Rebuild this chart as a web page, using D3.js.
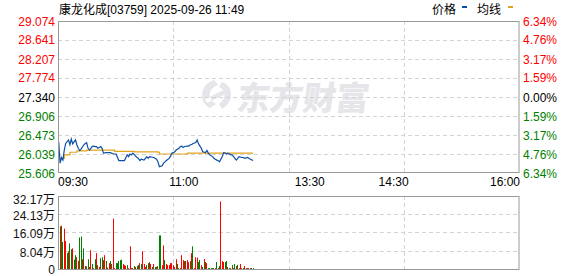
<!DOCTYPE html>
<html><head><meta charset="utf-8">
<script src="https://cdn.jsdelivr.net/npm/d3@7"></script>
<style>
body{margin:0;background:#fff}
svg{display:block}
text{font-family:"Liberation Sans",Arial,"Noto Sans CJK SC",sans-serif;font-size:12px}
</style>
</head><body><svg id="c" width="578" height="276"></svg>
<script>
// ---------- data ----------
const title = "康龙化成[03759] 2025-09-26 11:49";
const legendNames = ["价格", "均线"];
const prevClose = 27.340;
const priceTicks = [29.074, 28.641, 28.207, 27.774, 27.340, 26.906, 26.473, 26.039, 25.606];
const pctTicks = ["6.34%", "4.76%", "3.17%", "1.59%", "0.00%", "1.59%", "3.17%", "4.76%", "6.34%"];
const volTicks = [32.17, 24.13, 16.09, 8.04, 0];
const volTickLabels = ["32.17万", "24.13万", "16.09万", "8.04万", "0"];
const timeLabels = ["09:30", "11:00", "13:30", "14:30", "16:00"];
const timeMinutes = [0, 90, 180, 240, 330];
const totalMinutes = 330;

// price line (minute index from 09:30, price)
const priceMinutes = [0,1,2,3,4,5,7,8,9,10,12,13,14,15,16,18,19,20,21,22,24,25,26,27,28,30,31,32,34,37,39,41,43,45,47,49,50,51,52,53,55,56,57,58,59,61,62,63,64,65,68,70,71,72,74,75,76,77,79,80,81,82,83,84,86,87,88,89,90,92,93,94,95,96,98,99,100,101,102,103,105,106,107,108,110,111,112,113,114,115,117,118,119,120,121,123,124,125,126,127,128,129,131,132,133,135,136,137,139];
const prices = [26.32,25.83,25.96,25.90,26.13,26.28,26.36,26.25,26.38,26.27,26.36,26.25,26.17,26.12,26.15,26.25,26.28,26.30,26.17,26.13,26.21,26.22,26.21,26.21,26.17,26.21,26.17,26.06,26.07,26.07,26.04,26.04,25.89,25.89,25.89,26.02,25.98,26.04,26.02,26.06,25.99,25.96,25.94,25.89,25.92,25.90,25.94,25.98,25.94,25.98,25.96,25.92,25.86,25.75,25.77,25.83,25.86,25.89,25.94,25.99,26.06,26.07,26.09,26.13,26.17,26.21,26.22,26.19,26.21,26.22,26.22,26.25,26.25,26.28,26.30,26.36,26.27,26.22,26.17,26.09,26.07,26.12,26.06,26.02,25.98,25.94,25.92,25.90,25.89,25.86,25.98,26.07,26.06,26.04,26.06,26.02,26.02,25.98,25.94,25.90,25.94,25.98,25.96,25.96,25.94,25.96,25.94,25.92,25.89];

// average line
const avgMinutes = [1,4,8,13,20,39,40,54,71,72,91,92,139];
const avgPrices = [25.94,26.02,26.08,26.11,26.13,26.13,26.10,26.09,26.08,26.04,26.04,26.06,26.06];

// volume per minute (万股) and direction (1 = up/red, 0 = down/green)
const volumes = [28.7,18.8,19.1,11.9,17.8,12.3,7.0,7.8,11.3,8.7,9.1,4.1,6.1,5.2,3.6,13.9,14.3,4.3,9.1,1.3,1.2,4.3,0.9,8.3,2.2,0.4,4.3,7.0,1.7,0.9,4.8,5.2,3.9,6.1,3.5,0.6,2.6,3.5,2.2,22.2,0.4,2.6,2.6,3.5,3.9,4.1,2.2,1.7,1.4,1.7,0.4,10.0,0.4,0.4,1.3,0.9,1.4,1.7,2.6,2.2,7.8,2.2,0.9,1.7,2.6,3.0,2.2,0.9,2.2,0.9,0.9,1.3,14.8,14.8,1.7,10.4,3.9,2.2,1.7,1.7,2.6,2.6,1.7,0.9,4.3,2.2,0.4,0.4,6.1,3.9,3.5,3.5,3.9,3.0,3.5,7.0,10.0,0.4,5.2,5.0,3.1,4.0,1.7,0.9,4.4,3.1,2.6,0.4,0.4,0.4,0.4,0.4,0.4,3.1,0.4,1.3,29.8,3.5,3.1,3.1,3.5,0.9,0.4,0.4,1.8,0.4,2.2,1.3,1.8,0.4,2.2,0.4,0.4,1.3,0.4,0.4,0.4,0.4,0.4,0.4];
const volUp =   [0,0,1,0,1,1,0,1,0,0,1,0,0,1,1,0,0,1,0,1,0,0,1,1,0,1,0,1,0,1,0,0,1,1,0,1,1,0,1,1,1,0,0,0,0,0,1,1,1,0,1,1,1,0,0,1,0,0,1,0,1,1,1,0,1,0,1,0,1,0,1,0,0,0,1,1,0,1,1,1,1,1,1,1,1,0,0,1,1,1,1,0,1,1,0,1,0,1,1,1,0,0,1,0,1,0,1,0,0,0,0,0,1,0,1,0,1,1,1,0,0,1,0,1,0,1,0,1,0,0,1,1,0,1,0,1,1,1,0,0];

// ---------- layout ----------
const L = 58, R = 519.5;
const pTop = 21, pBot = 173;
const vTop = 196, vBot = 269;
const RED = "#ff0000", GREEN = "#008000", BLUE = "#0b4fa6", ORANGE = "#e2a31c";
const GRID = "#d3d3d3", BORDER = "#999";

const svg = d3.select("#c");
const x = d3.scaleLinear().domain([0, totalMinutes]).range([L, R]);
const y = d3.scaleLinear().domain([priceTicks[priceTicks.length - 1], priceTicks[0]]).range([pBot, pTop]);
const vy = d3.scaleLinear().domain([0, volTicks[0]]).range([vBot, vTop]);

// watermark
const wm = svg.append("g").attr("fill", "#e5e5ea");
wm.append("text").attr("x", 237).attr("y", 110)
  .attr("transform", "skewX(-8) translate(14,0)")
  .style("font-family", "'Noto Sans CJK SC'").style("font-size", "33px").style("font-weight", "900")
  .text("东方财富");
wm.append("path")
  .attr("d", "M214,80 C200,84 198,102 210,108 L216,104 C207,99 208,88 218,85 Z M222,82 C234,86 234,102 222,109 L219,104 C227,98 226,90 219,87 Z M205,99 L228,88 L230,92 L207,103 Z");

// grid — price
const gp = svg.append("g");
const vGrid = [1, 2, 3].map(i => L + (R - L) * i / 4);
gp.selectAll("line.h").data(priceTicks.slice(1, -1)).join("line")
  .attr("x1", L).attr("x2", R).attr("y1", d => Math.round(y(d)) + 0.5).attr("y2", d => Math.round(y(d)) + 0.5)
  .attr("stroke", GRID).attr("stroke-dasharray", "4,3");
gp.selectAll("line.v").data(vGrid).join("line").attr("class", "v")
  .attr("x1", d => Math.round(d) + 0.5).attr("x2", d => Math.round(d) + 0.5).attr("y1", pTop).attr("y2", pBot)
  .attr("stroke", GRID).attr("stroke-dasharray", "4,3");
// grid — volume
const gv = svg.append("g");
gv.selectAll("line.h").data(volTicks.slice(1, -1)).join("line")
  .attr("x1", L).attr("x2", R).attr("y1", d => Math.round(vy(d)) + 0.5).attr("y2", d => Math.round(vy(d)) + 0.5)
  .attr("stroke", GRID).attr("stroke-dasharray", "4,3");
gv.selectAll("line.v").data(vGrid).join("line").attr("class", "v")
  .attr("x1", d => Math.round(d) + 0.5).attr("x2", d => Math.round(d) + 0.5).attr("y1", vTop).attr("y2", vBot)
  .attr("stroke", GRID).attr("stroke-dasharray", "4,3");

// volume bars
svg.append("g").selectAll("rect").data(volumes.map((v, i) => ({v, i, up: volUp[i]}))).join("rect")
  .attr("x", d => Math.floor(x(d.i + 0.5)))
  .attr("width", 1)
  .attr("y", d => vy(d.v))
  .attr("height", d => vBot - vy(d.v))
  .attr("fill", d => d.up ? RED : GREEN);

// average line
svg.append("path")
  .datum(avgMinutes.map((m, i) => [m, avgPrices[i]]))
  .attr("d", d3.line().x(d => x(d[0] + 0.5)).y(d => y(d[1])).curve(d3.curveStepAfter))
  .attr("fill", "none").attr("stroke", ORANGE).attr("stroke-width", 1.2);

// price line
svg.append("path")
  .datum(priceMinutes.map((m, i) => [m, prices[i]]))
  .attr("d", d3.line().x(d => x(d[0] + 0.5)).y(d => y(d[1])))
  .attr("fill", "none").attr("stroke", BLUE).attr("stroke-width", 1.2);

// borders
svg.append("rect").attr("x", L + 0.5).attr("y", pTop + 0.5).attr("width", R - L - 1).attr("height", pBot - pTop - 1)
  .attr("fill", "none").attr("stroke", BORDER);
svg.append("rect").attr("x", L + 0.5).attr("y", vTop + 0.5).attr("width", R - L - 1).attr("height", vBot - vTop)
  .attr("fill", "none").attr("stroke", BORDER);

// left price labels
const lblColor = i => i < 4 ? RED : (i === 4 ? "#000" : GREEN);
svg.append("g").selectAll("text").data(priceTicks).join("text")
  .attr("x", 55).attr("y", d => y(d) + 4.5).attr("text-anchor", "end")
  .attr("fill", (d, i) => lblColor(i)).text(d => d.toFixed(3));
// right percent labels
svg.append("g").selectAll("text").data(pctTicks).join("text")
  .attr("x", 523).attr("y", (d, i) => y(priceTicks[i]) + 4.5)
  .attr("fill", (d, i) => lblColor(i)).text(d => d);
// volume labels
svg.append("g").selectAll("text").data(volTicks).join("text")
  .attr("x", 55)
  .attr("y", (d, i) => i === 0 ? vy(d) + 7.5 : (i === volTicks.length - 1 ? vy(d) + 4.5 : vy(d) + 5.8))
  .attr("text-anchor", "end")
  .attr("fill", "#111").text((d, i) => volTickLabels[i]);
// time labels
svg.append("g").selectAll("text").data(timeLabels).join("text")
  .attr("x", (d, i) => i === 0 ? L : (i === timeLabels.length - 1 ? R + 0.5 : x(timeMinutes[i])))
  .attr("y", 186)
  .attr("text-anchor", (d, i) => i === 0 ? "start" : (i === timeLabels.length - 1 ? "end" : "middle"))
  .attr("fill", "#000").text(d => d);

// title
svg.append("text").attr("x", 59).attr("y", 13.5).attr("fill", "#000").text(title);
// legend
svg.append("text").attr("x", 432).attr("y", 13.5).attr("fill", "#000").text(legendNames[0]);
svg.append("rect").attr("x", 462).attr("y", 6).attr("width", 5).attr("height", 2).attr("fill", BLUE);
svg.append("text").attr("x", 477).attr("y", 13.5).attr("fill", "#000").text(legendNames[1]);
svg.append("rect").attr("x", 508).attr("y", 6).attr("width", 5).attr("height", 2).attr("fill", ORANGE);
</script>
</body></html>
